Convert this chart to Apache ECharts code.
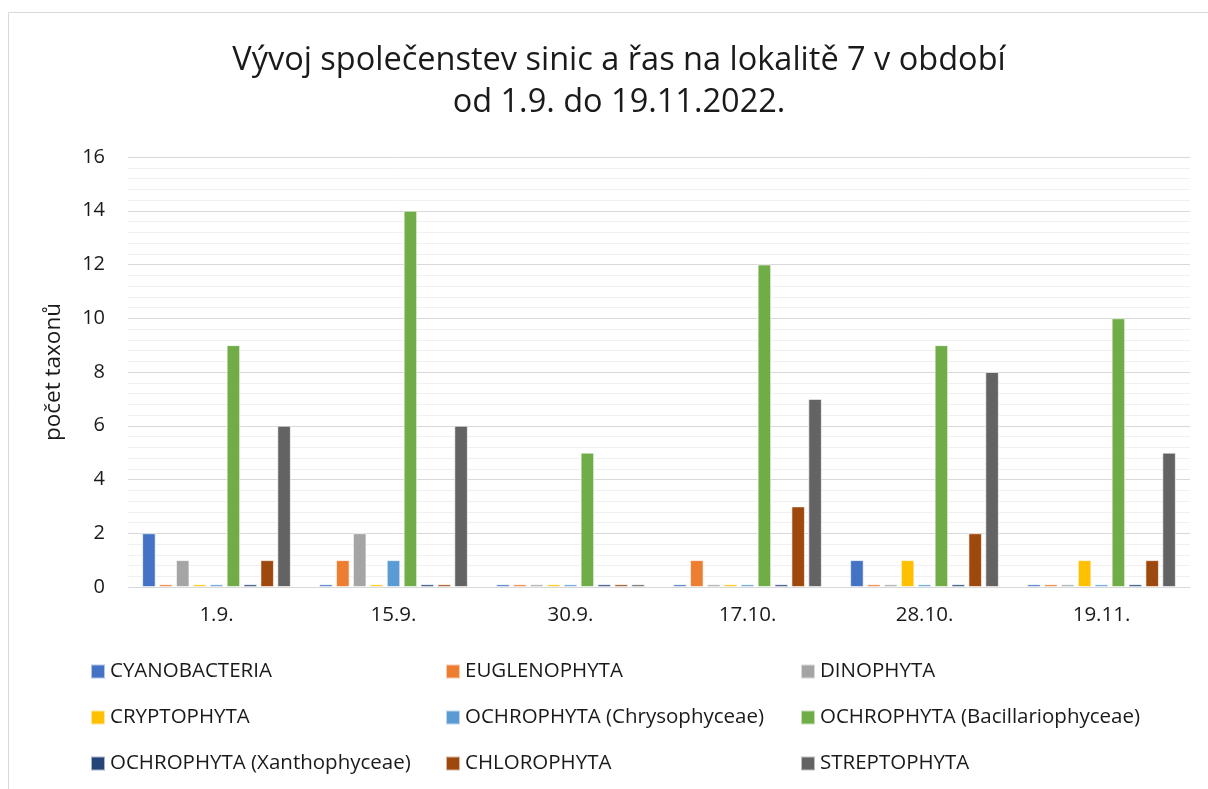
<!DOCTYPE html>
<html>
<head>
<meta charset="utf-8">
<script src="https://cdn.jsdelivr.net/npm/echarts@6/dist/echarts.min.js"></script>
<style>
  html, body { margin: 0; padding: 0; background: #fff; }
  #chart { width: 1208px; height: 789px; }
</style>
</head>
<body>
<div id="chart"></div>
<script>
// sampling dates
const dates = ['1.9.', '15.9.', '30.9.', '17.10.', '28.10.', '19.11.'];
// number of taxa per group (0.1 = zero stub as drawn in the original)
const cyanobacteria = [2, 0.1, 0.1, 0.1, 1, 0.1];
const euglenophyta = [0.1, 1, 0.1, 1, 0.1, 0.1];
const dinophyta = [1, 2, 0.1, 0.1, 0.1, 0.1];
const cryptophyta = [0.1, 0.1, 0.1, 0.1, 1, 1];
const chrysophyceae = [0.1, 1, 0.1, 0.1, 0.1, 0.1];
const bacillariophyceae = [9, 14, 5, 12, 9, 10];
const xanthophyceae = [0.1, 0.1, 0.1, 0.1, 0.1, 0.1];
const chlorophyta = [1, 0.1, 0.1, 3, 2, 1];
const streptophyta = [6, 6, 0.1, 7, 8, 5];

const seriesNames = [
  'CYANOBACTERIA', 'EUGLENOPHYTA', 'DINOPHYTA',
  'CRYPTOPHYTA', 'OCHROPHYTA (Chrysophyceae)', 'OCHROPHYTA (Bacillariophyceae)',
  'OCHROPHYTA (Xanthophyceae)', 'CHLOROPHYTA', 'STREPTOPHYTA'
];
const seriesData = [
  cyanobacteria, euglenophyta, dinophyta,
  cryptophyta, chrysophyceae, bacillariophyceae,
  xanthophyceae, chlorophyta, streptophyta
];
const colors = ['#4472C4', '#ED7D31', '#A5A5A5', '#FFC000', '#5B9BD5', '#70AD47', '#264478', '#9E480E', '#636363'];

const font = '"Open Sans", sans-serif';
const chart = echarts.init(document.getElementById('chart'));

// legend laid out in three columns, like the original
const legendCol = (i, left) => ({
  orient: 'vertical',
  left: left,
  top: 656,
  itemWidth: 14,
  itemHeight: 14,
  itemGap: 25,
  icon: 'rect',
  textStyle: { fontFamily: font, fontSize: 20.5, color: '#1a1a1a' },
  data: [seriesNames[i], seriesNames[i + 3], seriesNames[i + 6]]
});

chart.setOption({
  color: colors,
  title: {
    text: 'Vývoj společenstev sinic a řas na lokalitě 7 v období\nod 1.9. do 19.11.2022.',
    left: 614,
    textAlign: 'center',
    top: 35,
    textStyle: { fontFamily: font, fontSize: 32.5, fontWeight: 'normal', color: '#1a1a1a', lineHeight: 42 }
  },
  graphic: [{
    type: 'rect',
    shape: { x: 8.5, y: 12.5, width: 1220, height: 800 },
    style: { fill: 'none', stroke: '#d9d9d9', lineWidth: 1 },
    silent: true
  }],
  legend: [legendCol(0, 85), legendCol(1, 440), legendCol(2, 795)],
  grid: { left: 128, right: 18, top: 157, bottom: 202 },
  xAxis: {
    type: 'category',
    data: dates,
    axisTick: { show: false },
    axisLine: { lineStyle: { color: '#d9d9d9', width: 1 } },
    axisLabel: { fontFamily: font, fontSize: 20.5, color: '#1a1a1a', margin: 18 }
  },
  yAxis: {
    type: 'value',
    min: 0,
    max: 16,
    interval: 2,
    name: 'počet taxonů',
    nameLocation: 'middle',
    nameGap: 63,
    nameTextStyle: { fontFamily: font, fontSize: 22.5, color: '#1a1a1a' },
    axisLabel: { fontFamily: font, fontSize: 20, color: '#1a1a1a', margin: 23 },
    axisLine: { show: false },
    axisTick: { show: false },
    splitLine: { lineStyle: { color: '#d9d9d9', width: 1 } },
    minorTick: { show: false, splitNumber: 5 },
    minorSplitLine: { show: true, lineStyle: { color: '#f0f0f0', width: 1 } }
  },
  series: seriesNames.map((name, i) => ({
    name: name,
    type: 'bar',
    data: seriesData[i],
    barCategoryGap: '16%',
    barGap: '25%',
    itemStyle: { borderColor: 'rgba(255,255,255,0.6)', borderWidth: 1 }
  }))
});
</script>
</body>
</html>
